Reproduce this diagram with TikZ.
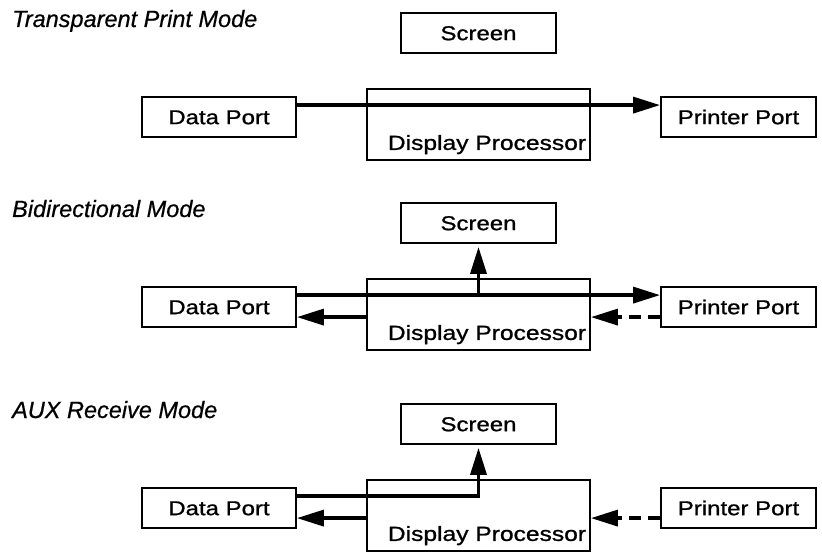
\documentclass[tikz,border=0pt]{standalone}
\usepackage{fontspec}
\setmainfont{Liberation Sans}[FakeBold=0.6]
\newfontfamily\boxfont[FakeStretch=1.2,FakeBold=1]{Liberation Sans}
\usetikzlibrary{arrows.meta,calc}
\begin{document}
\begin{tikzpicture}[x=1pt,y=-1pt,
  box/.style={draw, line width=1.8pt, minimum width=155pt, minimum height=40pt, inner sep=0pt,
    font=\boxfont\fontsize{20}{24}\selectfont, text height=14.3pt, text depth=0pt},
  dpbox/.style={draw, line width=1.8pt, minimum width=223pt, minimum height=71pt, inner sep=0pt},
  lbl/.style={font=\boxfont\fontsize{20.5}{24}\selectfont, inner sep=0pt, anchor=base},
  ttl/.style={font=\itshape\fontsize{23.5}{28}\selectfont, anchor=base west, inner sep=0pt},
  flow/.style={line width=3.5pt, line join=miter, -{Triangle[length=27pt,width=16pt]}},
  dashflow/.style={flow, dash pattern=on 12pt off 7pt}
]
\useasboundingbox (0,0) rectangle (822,556);
\foreach \i/\d/\t in {1/0/Transparent Print Mode,2/190/Bidirectional Mode,3/391/AUX Receive Mode}{
  \node[ttl] (title\i) at (12,27+\d) {\t};
  \node[box, minimum width=154pt] (data\i) at (219,117+\d) {Data Port};
  \node[box] (screen\i) at (478.5,33+\d) {Screen};
  \node[dpbox] (dp\i) at (478.5,124.5+\d) {};
  \node[lbl] (dpt\i) at ($(dp\i.south)+(8.5,-11)$) {Display Processor};
  \node[box] (printer\i) at (738.5,117+\d) {Printer Port};
  \coordinate (a\i) at ($(data\i.north east)+(0,9)$);
  \coordinate (b\i) at ($(data\i.north east)+(0,31)$);
}
% Transparent print mode
\draw[flow] (a1) -- (printer1.west |- a1);
% Bidirectional mode
\draw[flow] (a2) -- (printer2.west |- a2);
\draw[flow, shorten >=3pt] (screen2.south |- a2) -- (screen2.south);
\draw[flow] (dp2.west |- b2) -- (data2.east |- b2);
\draw[dashflow] (printer2.west |- b2) -- (dp2.east |- b2);
% AUX receive mode
\draw[flow, shorten >=3pt] (a3) -| (screen3.south);
\draw[flow] (dp3.west |- b3) -- (data3.east |- b3);
\draw[dashflow] (printer3.west |- b3) -- (dp3.east |- b3);
\end{tikzpicture}
\end{document}
